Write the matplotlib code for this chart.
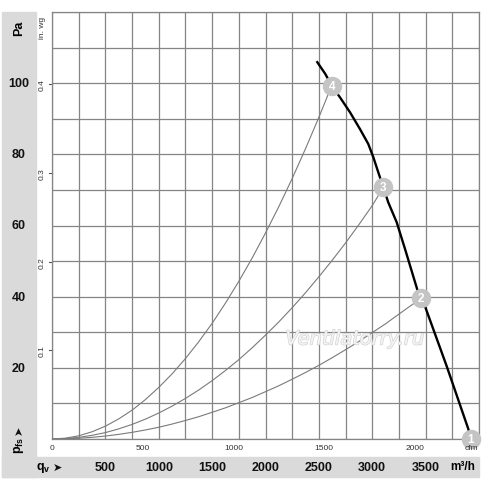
import numpy as np
import matplotlib.pyplot as plt
import matplotlib.transforms as mtransforms
import matplotlib.patheffects as pe

plt.rcParams['font.family'] = ['Liberation Sans', 'DejaVu Sans']

# fan curve (m3/h, Pa)
fan_q = [2485, 2560, 2620, 2698, 2792, 2885, 2963, 3010, 3057, 3104, 3150, 3229, 3307,
         3447, 3494, 3697, 3900, 3925]
fan_p = [105.9, 102.6, 99.3, 96.0, 91.8, 87.1, 82.9, 79.2, 74.9, 70.7, 66.5, 60.9, 53.4,
         39.5, 37.3, 20.5, 2.8, 0.0]

# system curves through the numbered operating points
sys4_q = [0, 125, 250, 375, 500, 625, 750, 875, 1000, 1125, 1250, 1375, 1500, 1625,
          1750, 1875, 2000, 2125, 2250, 2375, 2500, 2620]
sys4_p = [0, 0.23, 0.9, 2.03, 3.6, 5.65, 8.1, 11.08, 14.5, 18.31, 22.6, 27.35, 32.5, 38.2,
          44.3, 50.86, 57.9, 65.32, 73.2, 81.6, 90.4, 99.3]
sys3_q = [0, 125, 250, 375, 500, 625, 750, 875, 1000, 1125, 1250, 1375, 1500, 1625, 1750,
          1875, 2000, 2125, 2250, 2375, 2500, 2625, 2750, 2875, 3000, 3104]
sys3_p = [0, 0.11, 0.46, 1.03, 1.8, 2.85, 4.1, 5.58, 7.3, 9.23, 11.4, 13.78, 16.4, 19.25, 22.3,
          25.63, 29.2, 32.91, 36.9, 41.11, 45.6, 50.23, 55.1, 60.25, 65.6, 70.7]
sys2_q = [0, 125, 250, 375, 500, 625, 750, 875, 1000, 1125, 1250, 1375, 1500, 1625, 1750,
          1875, 2000, 2125, 2250, 2375, 2500, 2625, 2750, 2875, 3000, 3125, 3250, 3375, 3460]
sys2_p = [0, 0.05, 0.21, 0.47, 0.83, 1.30, 1.87, 2.54, 3.3, 4.20, 5.2, 6.27, 7.5, 8.76, 10.2,
          11.66, 13.3, 14.97, 16.8, 18.70, 20.7, 22.85, 25.1, 27.41, 29.9, 32.38, 35.1, 37.77, 39.7]

pt_labels = ['1', '2', '3', '4']
pt_q = [3925, 3460, 3104, 2620]
pt_p = [0.0, 39.7, 70.7, 99.3]

m3h_labels = [500, 1000, 1500, 2000, 2500, 3000, 3500]
cfm_labels = [0, 500, 1000, 1500, 2000]
pa_labels = [20, 40, 60, 80, 100]
inwg_labels = [0.1, 0.2, 0.3, 0.4]

W, H = 500, 481
fig = plt.figure(figsize=(W / 100, H / 100), dpi=100)
fig.patch.set_facecolor('white')

# grey frame on the left and at the bottom
band = '#dadada'
fig.patches.append(plt.Rectangle((2 / W, 1 - 478 / H), 34 / W, 465 / H,
                                 transform=fig.transFigure, color=band, zorder=-1))
fig.patches.append(plt.Rectangle((2 / W, 1 - 478 / H), 477 / W, 20 / H,
                                 transform=fig.transFigure, color=band, zorder=-1))

ax = fig.add_axes([52 / W, 1 - 440 / H, 427 / W, 427 / H])
ax.set_xlim(0, 4000)
ax.set_ylim(0, 120)
ax.set_xticks(np.arange(0, 4001, 250))
ax.set_yticks(np.arange(0, 121, 10))
ax.tick_params(length=0, labelbottom=False, labelleft=False)
ax.grid(True, color='#858585', lw=0.9)
for s in ax.spines.values():
    s.set_color('#858585')
    s.set_linewidth(0.9)

ax.plot(sys4_q, sys4_p, c='#7a7a7a', lw=0.8, zorder=3)
ax.plot(sys3_q, sys3_p, c='#7a7a7a', lw=0.8, zorder=3)
ax.plot(sys2_q, sys2_p, c='#7a7a7a', lw=0.8, zorder=3)
ax.plot(fan_q, fan_p, c='k', lw=1.7, zorder=4)

for lab, q, p in zip(pt_labels, pt_q, pt_p):
    ax.plot(q, p, 'o', ms=13, mfc='#c4c4c4', mec='#c4c4c4', zorder=6, clip_on=False)
    ax.text(q, p, lab, color='white', fontsize=8.5, fontweight='bold',
            ha='center', va='center', zorder=7)

fig.text(355 / W, 1 - 340 / H, 'Ventilatorry.ru', fontsize=14, style='italic',
         color='#f4f4f4', ha='center', va='center', family='DejaVu Sans',
         path_effects=[pe.withStroke(linewidth=1.0, foreground='#d4d4d4')])

# bottom labels
bx = mtransforms.blended_transform_factory(ax.transData, fig.transFigure)
for v in m3h_labels:
    ax.text(v, 1 - 468 / H, str(v), transform=bx, ha='center', va='center',
            fontsize=9, fontweight='bold', color='#111')
for v in cfm_labels:
    ax.text(v * 1.699, 1 - 448 / H, str(v), transform=bx, ha='center', va='center',
            fontsize=6, color='#333')
fig.text(471 / W, 1 - 448 / H, 'cfm', fontsize=6, color='#333', ha='center', va='center', zorder=1)
fig.text(463 / W, 1 - 467 / H, 'm³/h', fontsize=8.5, fontweight='bold', ha='center', va='center')
fig.text(43 / W, 1 - 468 / H, r'q$_\mathregular{v}$', fontsize=9, fontweight='bold',
         ha='center', va='center')
fig.text(57 / W, 1 - 468 / H, '➤', fontsize=8, ha='center', va='center', family='DejaVu Sans', color='#111')

# left labels
by = mtransforms.blended_transform_factory(fig.transFigure, ax.transData)
tick_tr = mtransforms.blended_transform_factory(ax.transAxes, ax.transData)
for v in pa_labels:
    ax.text(19 / W, v, str(v), transform=by, ha='center', va='center',
            fontsize=9, fontweight='bold', color='#111')
for v in inwg_labels:
    ax.text(42 / W, v * 249.1, '%.1f' % v, transform=by, ha='center', va='center',
            fontsize=6, color='#333', rotation=90)
    ax.plot([-0.007, 0], [v * 249.1, v * 249.1], transform=tick_tr,
            c='#555', lw=0.8, clip_on=False)
fig.text(42 / W, 1 - 28 / H, 'in. wg', fontsize=6, color='#333', rotation=90, ha='center', va='center')
fig.text(19 / W, 1 - 28 / H, 'Pa', fontsize=9, fontweight='bold', rotation=90, ha='center', va='center')
fig.text(19 / W, 1 - 445 / H, r'p$_\mathregular{fs}$', fontsize=9, fontweight='bold', rotation=90,
         ha='center', va='center')
fig.text(19 / W, 1 - 430 / H, '➤', fontsize=8, rotation=90, ha='center', va='center',
         family='DejaVu Sans', color='#111')

plt.savefig('out.png', dpi=100)
